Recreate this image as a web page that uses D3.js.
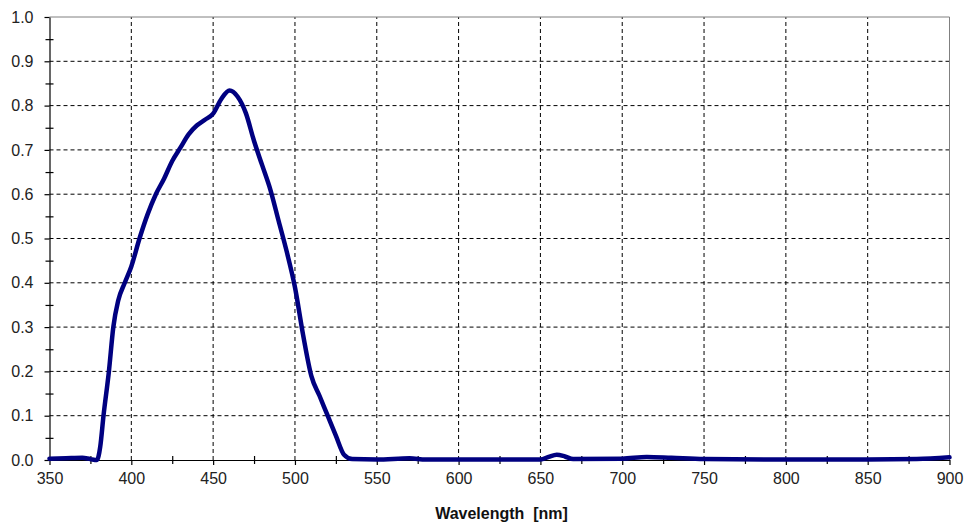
<!DOCTYPE html>
<html>
<head>
<meta charset="utf-8">
<script src="https://cdn.jsdelivr.net/npm/d3@7"></script>
<style>
  body { margin: 0; background: #fff; }
  svg { display: block; font-family: "Liberation Sans", Arial, sans-serif; }
</style>
</head>
<body>
<div id="chart"></div>
<script>
// wavelength (nm) and transmission
const wavelengths = [350, 360, 370, 375, 379, 381, 383, 386.3, 389, 392, 396, 400, 405, 410, 415, 420, 425, 430, 435, 440, 445, 450, 455, 460, 465, 470, 475, 480, 485, 490, 495, 500, 505, 510, 515, 520, 525, 530, 535, 550, 570, 580, 650, 655, 660, 665, 670, 700, 715, 730, 750, 800, 850, 880, 900];
const transmission = [0.003, 0.004, 0.005, 0.002, 0.0, 0.03, 0.1, 0.2, 0.3, 0.36, 0.4, 0.437, 0.5, 0.555, 0.6, 0.635, 0.675, 0.705, 0.735, 0.755, 0.768, 0.782, 0.815, 0.834, 0.82, 0.783, 0.72, 0.665, 0.61, 0.54, 0.47, 0.39, 0.282, 0.19, 0.145, 0.1, 0.055, 0.012, 0.002, 0.001, 0.004, 0.001, 0.001, 0.007, 0.012, 0.008, 0.002, 0.003, 0.007, 0.005, 0.002, 0.001, 0.001, 0.002, 0.006];

const xTicks = [350, 400, 450, 500, 550, 600, 650, 700, 750, 800, 850, 900];
const xMinorTicks = [375, 425, 475, 525, 575, 625, 675, 725, 775, 825, 875];
const yTicks = [0, 0.1, 0.2, 0.3, 0.4, 0.5, 0.6, 0.7, 0.8, 0.9, 1.0];
const yMinorTicks = [0.05, 0.15, 0.25, 0.35, 0.45, 0.55, 0.65, 0.75, 0.85, 0.95];

const width = 970;
const height = 530;
const margin = { top: 17, right: 20.5, bottom: 70, left: 49.5 };

const x = d3.scaleLinear()
    .domain([350, 900])
    .range([margin.left, width - margin.right]);

const y = d3.scaleLinear()
    .domain([0, 1])
    .range([height - margin.bottom, margin.top]);

const svg = d3.select("#chart").append("svg")
    .attr("width", width)
    .attr("height", height);

// grid
svg.append("g")
    .selectAll("line")
    .data(xTicks.slice(1, -1))
    .join("line")
    .attr("x1", d => x(d)).attr("x2", d => x(d))
    .attr("y1", y(0)).attr("y2", y(1))
    .attr("stroke", "#000")
    .attr("stroke-dasharray", "4,3");

svg.append("g")
    .selectAll("line")
    .data(yTicks.slice(1, -1))
    .join("line")
    .attr("x1", x(350)).attr("x2", x(900))
    .attr("y1", d => y(d)).attr("y2", d => y(d))
    .attr("stroke", "#000")
    .attr("stroke-dasharray", "4,3");

// frame top / right
svg.append("path")
    .attr("d", `M${x(350)},${y(1)}H${x(900)}V${y(0)}`)
    .attr("fill", "none")
    .attr("stroke", "#808080");

// axes
svg.append("g")
    .attr("transform", `translate(0,${y(0)})`)
    .call(d3.axisBottom(x).tickValues(xTicks).tickSize(5).tickPadding(8).tickSizeOuter(0));

svg.append("g")
    .attr("transform", `translate(0,${y(0)})`)
    .call(d3.axisBottom(x).tickValues(xMinorTicks).tickFormat("").tickSizeOuter(0))
    .call(g => g.select(".domain").remove())
    .call(g => g.selectAll(".tick line").attr("y1", -4).attr("y2", 4));

svg.append("g")
    .attr("transform", `translate(${x(350)},0)`)
    .call(d3.axisLeft(y).tickValues(yTicks).tickFormat(d3.format(".1f")).tickSize(5).tickPadding(11).tickSizeOuter(0));

svg.append("g")
    .attr("transform", `translate(${x(350)},0)`)
    .call(d3.axisLeft(y).tickValues(yMinorTicks).tickFormat("").tickSizeOuter(0))
    .call(g => g.select(".domain").remove())
    .call(g => g.selectAll(".tick line").attr("x1", -4).attr("x2", 4));

svg.selectAll(".tick text")
    .attr("font-size", 16)
    .attr("font-family", "'Liberation Sans', Arial, sans-serif")
    .attr("fill", "#222");

svg.selectAll(".domain, .tick line")
    .attr("stroke", "#000")
    .attr("stroke-width", 1.2);

// curve
const line = d3.line()
    .x((d, i) => x(wavelengths[i]))
    .y(d => y(d))
    .curve(d3.curveMonotoneX);

svg.append("path")
    .datum(transmission)
    .attr("fill", "none")
    .attr("stroke", "#000080")
    .attr("stroke-width", 4.5)
    .attr("stroke-linejoin", "round")
    .attr("stroke-linecap", "round")
    .attr("d", line);

// axis title
svg.append("text")
    .attr("x", (x(350) + x(900)) / 2 + 2)
    .attr("y", 519)
    .attr("text-anchor", "middle")
    .attr("font-size", 16)
    .attr("font-weight", "bold")
    .attr("fill", "#111")
    .attr("xml:space", "preserve")
    .text("Wavelength  [nm]");
</script>
</body>
</html>
